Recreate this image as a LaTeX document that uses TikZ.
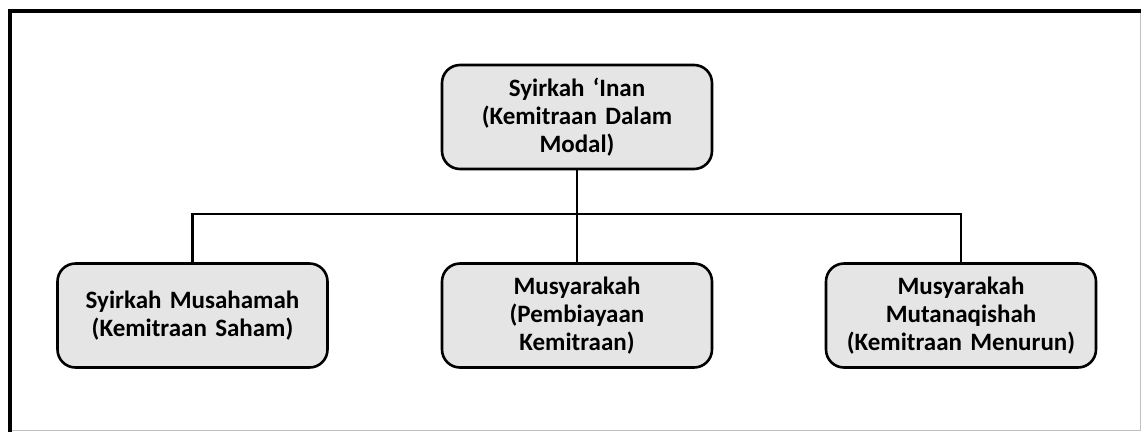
\documentclass[tikz,border=0pt]{standalone}
\usepackage{fontspec}
\setmainfont{Carlito}[WordSpace=0.75]

\begin{document}
\begin{tikzpicture}[x=1pt,y=-1pt,
  kotak/.style={draw,line width=2.6pt,rounded corners=18pt,fill=black!10,
    minimum width=270pt,minimum height=104pt,text width=262pt,align=center,
    font=\fontsize{25}{28}\selectfont\bfseries,inner sep=0pt},
  garis/.style={line width=2.6pt}]
\useasboundingbox (0,0) rectangle (1141,432);
% bingkai
\draw[line width=1pt,black!25] (1140,11) -- (1140,430) -- (9,430);
\draw[line width=4pt] (9.5,432) -- (9.5,11) -- (1141,11);
% kotak
\node[kotak] (inan) at (577,117) {Syirkah `Inan\\(Kemitraan Dalam\\Modal)};
\node[kotak] (saham) at (192.5,315.5) {Syirkah Musahamah\\(Kemitraan Saham)};
\node[kotak] (biaya) at (577,315.5) {Musyarakah\\(Pembiayaan\\Kemitraan)};
\node[kotak] (turun) at (961,315.5) {Musyarakah\\Mutanaqishah\\(Kemitraan Menurun)};
% garis penghubung
\coordinate (simpang) at (577,214);
\draw[garis] (inan.south) -- (biaya.north);
\draw[garis] (simpang) -| (saham.north);
\draw[garis] (simpang) -| (turun.north);
\end{tikzpicture}
\end{document}
